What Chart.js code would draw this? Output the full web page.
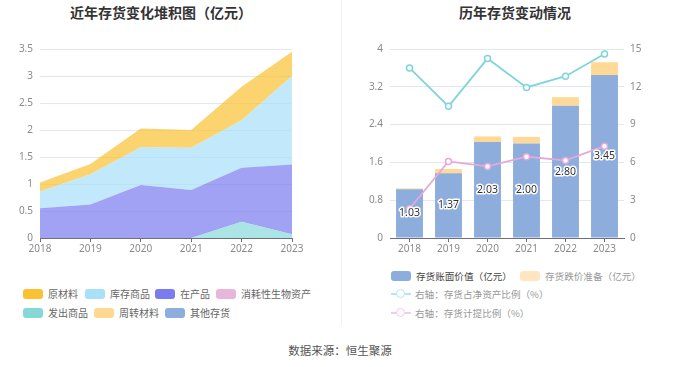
<!DOCTYPE html>
<html>
<head>
<meta charset="utf-8">
<script src="https://cdn.jsdelivr.net/npm/chart.js@4/dist/chart.umd.min.js"></script>
<style>
   body { margin: 0; background: #fff; font-family: "Noto Sans CJK SC", "Noto Sans", sans-serif; }
   #wrap { position: relative; width: 680px; height: 367px; overflow: hidden; }
   .titulo { position: absolute; top: 2px; font-size: 14px; font-weight: bold; color: #333; text-align: center; line-height: 20px; }
   .cv { position: absolute; }
   .leg { position: absolute; font-size: 10px; line-height: 14px; white-space: nowrap; }
   .leg .it { position: absolute; display: flex; align-items: center; }
   .leg .box { width: 20px; height: 10px; border-radius: 3px; margin-right: 5px; }
   .leg .ln { position: relative; width: 20px; height: 10px; margin-right: 4px; }
   .leg .ln i { position: absolute; left: 0; top: 4px; width: 20px; height: 1.5px; }
   .leg .ln b { position: absolute; left: 5px; top: 0; width: 7px; height: 7px; border-radius: 50%; background: #fff; border: 1.5px solid; }
   #legBarra { font-size: 9.6px; }
   #divisor { position: absolute; left: 341px; top: 0; width: 1px; height: 325px; background: #f1f1f1; }
   #fonte { position: absolute; left: 0; width: 680px; top: 342px; text-align: center; font-size: 11.5px; color: #555; }
</style>
</head>
<body>
<div id="wrap">
   <div class="titulo" style="left:0;width:322px;">近年存货变化堆积图（亿元）</div>
   <div class="titulo" style="left:342px;width:346px;">历年存货变动情况</div>
   <canvas id="grafArea" class="cv" width="320" height="224" style="left:0;top:36px;"></canvas>
   <canvas id="grafBarra" class="cv" width="340" height="224" style="left:340px;top:36px;"></canvas>
   <div id="legArea" class="leg"></div>
   <div id="legBarra" class="leg"></div>
   <div id="divisor"></div>
   <div id="fonte">数据来源：恒生聚源</div>
</div>
<script>
//-> DADOS...
const anos = ['2018', '2019', '2020', '2021', '2022', '2023'];

// 堆积图 (亿元)
const yuancailiao = [0.17, 0.19, 0.35, 0.33, 0.62, 0.45];
const kucunshangpin = [0.31, 0.56, 0.70, 0.78, 0.88, 1.64];
const zaichanpin = [0.55, 0.62, 0.98, 0.89, 1.00, 1.29];
const xiaohaoxing = [null, null, null, null, null, null];
const fachushangpin = [0, 0, 0, 0, 0.30, 0.07];
const zhouzhuancailiao = [null, null, null, null, null, null];
const qitacunhuo = [null, null, null, null, null, null];

// 历年存货变动
const zhangmianjiazhi = [1.03, 1.37, 2.03, 2.00, 2.80, 3.45];
const dieJiaZhunbei = [0.02, 0.09, 0.12, 0.14, 0.18, 0.27];
const zhanJingzichan = [13.5, 10.45, 14.24, 11.95, 12.84, 14.6];
const jitiBili = [2.32, 6.08, 5.68, 6.45, 6.16, 7.29];

const tickEsq = { max: 3.5, step: 0.5 };
const tickDir = { max: 4, step: 0.8, max1: 15, step1: 3 };

Chart.defaults.font.family = '"Noto Sans", "Noto Sans CJK SC", sans-serif';
Chart.defaults.font.size = 10;
Chart.defaults.color = '#8a8a8a';

const corEixo = '#6E7079';
const corGrade = '#E3E7F1';

function rgba(hex, a) {
   const n = parseInt(hex.slice(1), 16);
   return 'rgba(' + (n >> 16) + ',' + ((n >> 8) & 255) + ',' + (n & 255) + ',' + a + ')';
}

//-> LEGENDA ESQUERDA...
const legEsq = [
   { nome: '原材料', cor: '#FAC232', x: 23, y: 287 },
   { nome: '库存商品', cor: '#A8E0FA', x: 85, y: 287 },
   { nome: '在产品', cor: '#7B7BF0', x: 155, y: 287 },
   { nome: '消耗性生物资产', cor: '#E8B6DA', x: 216, y: 287 },
   { nome: '发出商品', cor: '#86D8D8', x: 23, y: 306 },
   { nome: '周转材料', cor: '#FFD894', x: 94, y: 306 },
   { nome: '其他存货', cor: '#8DADDD', x: 165, y: 306 }
];
let h = '';
legEsq.forEach(l => {
   h += '<div class="it" style="left:' + l.x + 'px;top:' + l.y + 'px;color:#666"><span class="box" style="background:' + l.cor + '"></span>' + l.nome + '</div>';
});
document.getElementById('legArea').innerHTML = h;

//-> GRÁFICO DE ÁREA EMPILHADA (baixo -> cima)...
const series = [
   { nome: '发出商品', dados: fachushangpin, cor: '#86D8D8' },
   { nome: '在产品', dados: zaichanpin, cor: '#7B7BF0' },
   { nome: '库存商品', dados: kucunshangpin, cor: '#A8E0FA' },
   { nome: '消耗性生物资产', dados: xiaohaoxing, cor: '#E8B6DA' },
   { nome: '周转材料', dados: zhouzhuancailiao, cor: '#FFD894' },
   { nome: '其他存货', dados: qitacunhuo, cor: '#8DADDD' },
   { nome: '原材料', dados: yuancailiao, cor: '#FAC232' }
].filter(s => s.dados.some(v => v !== null));

new Chart(document.getElementById('grafArea').getContext('2d'), {
   type: 'line',
   data: {
      labels: anos,
      datasets: series.map((s, i) => ({
         label: s.nome,
         data: s.dados,
         borderWidth: 0,
         pointRadius: 0,
         backgroundColor: rgba(s.cor, 0.7),
         fill: i == 0 ? 'origin' : '-1'
      }))
   },
   options: {
      responsive: false,
      animation: false,
      devicePixelRatio: 1,
      layout: { padding: { top: 8, right: 28, left: 0, bottom: 0 } },
      plugins: { legend: { display: false }, tooltip: { enabled: false } },
      scales: {
         x: {
            grid: { drawOnChartArea: false, drawTicks: true, tickLength: 4, color: corEixo },
            border: { color: corEixo },
            ticks: { padding: 1, maxRotation: 0 },
            afterFit: s => { s.height = 22; }
         },
         y: {
            stacked: true,
            min: 0, max: tickEsq.max,
            grid: { color: corGrade, drawTicks: false },
            border: { display: false },
            ticks: { stepSize: tickEsq.step, padding: 7, callback: v => String(+v.toFixed(1)) },
            afterFit: s => { s.width = 40; }
         }
      }
   }
});

//-> LEGENDA DIREITA...
h = '';
h += '<div class="it" style="left:391px;top:269px;color:#444"><span class="box" style="background:#8DADDD"></span>存货账面价值（亿元）</div>';
h += '<div class="it" style="left:520px;top:269px;color:#999"><span class="box" style="background:#FFE6C0"></span>存货跌价准备（亿元）</div>';
h += '<div class="it" style="left:391px;top:287px;color:#999"><span class="ln"><i style="background:#B5E7EA"></i><b style="border-color:#B5E7EA"></b></span>右轴：存货占净资产比例（%）</div>';
h += '<div class="it" style="left:391px;top:306px;color:#999"><span class="ln"><i style="background:#F1CDE8"></i><b style="border-color:#F1CDE8"></b></span>右轴：存货计提比例（%）</div>';
document.getElementById('legBarra').innerHTML = h;

//-> RÓTULOS NAS BARRAS...
const rotulos = {
   id: 'rotulos',
   afterDatasetsDraw(chart) {
      const ctx = chart.ctx;
      const meta = chart.getDatasetMeta(2);
      ctx.save();
      ctx.font = '10.5px "Noto Sans", sans-serif';
      ctx.textAlign = 'center';
      ctx.textBaseline = 'middle';
      ctx.lineJoin = 'round';
      meta.data.forEach((b, i) => {
         const txt = zhangmianjiazhi[i].toFixed(2);
         const y = (b.y + b.base) / 2;
         ctx.lineWidth = 3;
         ctx.strokeStyle = '#fff';
         ctx.strokeText(txt, b.x, y);
         ctx.fillStyle = '#333';
         ctx.fillText(txt, b.x, y);
      });
      ctx.restore();
   }
};

//-> GRÁFICO DE BARRAS + LINHAS...
new Chart(document.getElementById('grafBarra').getContext('2d'), {
   type: 'bar',
   data: {
      labels: anos,
      datasets: [
         {
            type: 'line', label: '右轴：存货占净资产比例（%）', data: zhanJingzichan, yAxisID: 'y1',
            borderColor: '#7FD5DA', borderWidth: 1.8, pointRadius: 3, pointBorderWidth: 1.5,
            pointBackgroundColor: '#fff', pointBorderColor: '#7FD5DA', order: 0
         },
         {
            type: 'line', label: '右轴：存货计提比例（%）', data: jitiBili, yAxisID: 'y1',
            borderColor: '#E6A8D8', borderWidth: 1.8, pointRadius: 3, pointBorderWidth: 1.5,
            pointBackgroundColor: '#fff', pointBorderColor: '#E6A8D8', order: 0
         },
         {
            label: '存货账面价值（亿元）', data: zhangmianjiazhi, backgroundColor: '#8DADDD',
            stack: 'inv', categoryPercentage: 0.69, barPercentage: 1, order: 1
         },
         {
            label: '存货跌价准备（亿元）', data: dieJiaZhunbei, backgroundColor: '#FFD995',
            stack: 'inv', categoryPercentage: 0.69, barPercentage: 1, order: 1
         }
      ]
   },
   options: {
      responsive: false,
      animation: false,
      devicePixelRatio: 1,
      layout: { padding: { top: 8, right: 0, left: 0, bottom: 0 } },
      plugins: { legend: { display: false }, tooltip: { enabled: false } },
      scales: {
         x: {
            stacked: true,
            grid: { offset: false, drawOnChartArea: false, drawTicks: true, tickLength: 4, color: corEixo },
            border: { color: corEixo },
            ticks: { padding: 1, maxRotation: 0 },
            afterFit: s => { s.height = 22; }
         },
         y: {
            stacked: true,
            min: 0, max: tickDir.max,
            grid: { color: corGrade, drawTicks: false },
            border: { display: false },
            ticks: { stepSize: tickDir.step, padding: 7, callback: v => String(+v.toFixed(1)) },
            afterFit: s => { s.width = 50; }
         },
         y1: {
            position: 'right',
            min: 0, max: tickDir.max1,
            grid: { drawOnChartArea: false, drawTicks: false },
            border: { display: false },
            ticks: { stepSize: tickDir.step1, padding: 6 },
            afterFit: s => { s.width = 56; }
         }
      }
   },
   plugins: [rotulos]
});
</script>
</body>
</html>
